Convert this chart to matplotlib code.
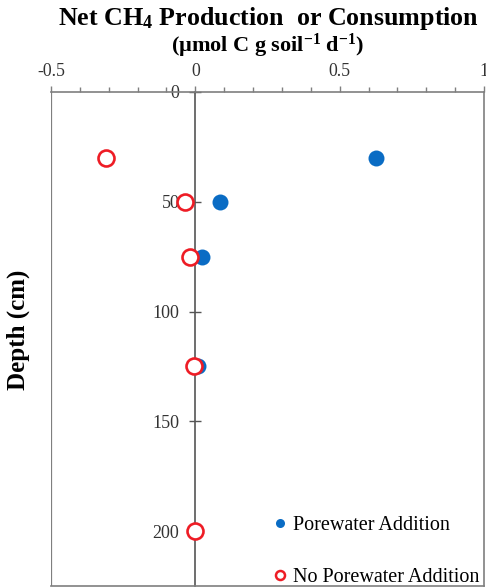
import matplotlib
matplotlib.use("Agg")
import matplotlib.pyplot as plt
from matplotlib.ticker import MultipleLocator
from matplotlib.lines import Line2D

plt.rcParams["font.family"] = ["Liberation Serif", "DejaVu Serif"]
plt.rcParams["mathtext.fontset"] = "custom"
plt.rcParams["mathtext.rm"] = "Liberation Serif"
plt.rcParams["mathtext.bf"] = "Liberation Serif:bold"
plt.rcParams["mathtext.it"] = "Liberation Serif:italic"

# data
depth_pw = [30, 50, 75, 125]
flux_pw = [0.625, 0.085, 0.022, 0.008]
depth_nopw = [30, 50, 75, 125, 200]
flux_nopw = [-0.31, -0.035, -0.02, -0.003, 0.0]

x_ticks = [-0.5, 0, 0.5, 1]
x_ticklabels = ["-0.5", "0", "0.5", "1"]
y_ticks = [0, 50, 100, 150, 200]

blue = "#0a6cc4"
red = "#ee1c25"
axis_gray = "#7f7f7f"

fig = plt.figure(figsize=(4.86, 5.87), dpi=100)
ax = fig.add_axes([51 / 486, 1 / 587, 433 / 486, 494 / 587])

ax.plot(flux_pw, depth_pw, "o", color=blue, markersize=11.5, markeredgewidth=0,
        linestyle="none", zorder=3)
ax.plot(flux_nopw, depth_nopw, "o", markerfacecolor="white", markeredgecolor=red,
        markersize=11.5, markeredgewidth=1.9, linestyle="none", zorder=4)

ax.set_xlim(-0.5, 1)
ax.set_ylim(225, 0)

# x axis on top, ticks pointing up
ax.xaxis.tick_top()
ax.set_xticks(x_ticks)
ax.set_xticklabels(x_ticklabels)
ax.xaxis.set_minor_locator(MultipleLocator(0.1))
ax.tick_params(axis="x", which="major", direction="out", length=4, width=1,
               color=axis_gray, labelsize=12.8, pad=4.5, labelcolor="#333333")
ax.tick_params(axis="x", which="minor", direction="out", length=3.5, width=1,
               color=axis_gray)
ax.tick_params(axis="x", which="both", bottom=False, labelbottom=False)

# y axis crossing at x = 0
ax.spines["left"].set_position(("data", 0))
ax.spines["left"].set_color("#555555")
ax.set_yticks(y_ticks)
ax.tick_params(axis="y", direction="inout", length=9, width=1, color="#555555",
               labelsize=13, pad=7, labelcolor="#333333")
for side in ["top", "right", "bottom"]:
    ax.spines[side].set_color(axis_gray)
    ax.spines[side].set_linewidth(1.2)
ax.spines["left"].set_linewidth(1.2)

# outer frame on the left
ax.axvline(ax.get_xlim()[0], color=axis_gray, linewidth=1.6, zorder=1)

fig.text(269 / 486, 1 - 19 / 587, "Net CH$_\\mathbf{4}$ Production  or Consumption",
         ha="center", va="center", fontsize=18.7, fontweight="bold")
fig.text(268 / 486, 1 - 46 / 587,
         "(\u00b5mol C g soil$^{\\mathbf{-1}}$ d$^{\\mathbf{-1}}$)",
         ha="center", va="center", fontsize=16, fontweight="bold")
fig.text(18 / 486, 1 - 330 / 587, "Depth (cm)", rotation=90, ha="center",
         va="center", fontsize=18, fontweight="bold")

handles = [
    Line2D([], [], marker="o", linestyle="none", color=blue, markersize=6.5,
           markeredgewidth=0),
    Line2D([], [], marker="o", linestyle="none", markerfacecolor="white",
           markeredgecolor=red, markersize=6.5, markeredgewidth=1.8),
]
fig.legend(handles, ["Porewater Addition", "No Porewater Addition"],
           loc="lower left", bbox_to_anchor=(274 / 486, 0),
           frameon=False, prop={"family": "Liberation Serif", "size": 14.5},
           handlelength=0.6, handletextpad=0.35,
           labelspacing=1.65, borderpad=0, borderaxespad=0)

fig.savefig("out.png", dpi=100)
